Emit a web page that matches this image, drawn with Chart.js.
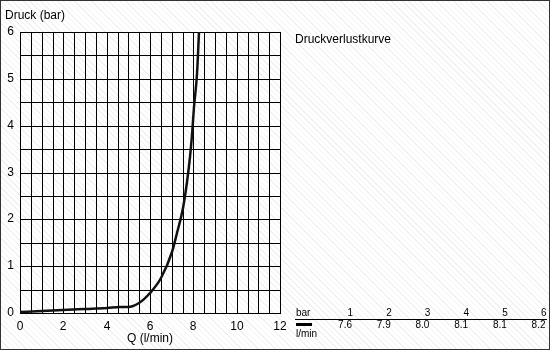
<!DOCTYPE html>
<html lang="de">
<head>
<meta charset="UTF-8">
<title>Druckverlustkurve</title>
<style>
    html, body {
        margin: 0;
        padding: 0;
    }
    body {
        width: 550px;
        height: 350px;
        background: repeating-linear-gradient(45deg, #ffffff 0px, #ffffff 3px, #f1f1f1 3px, #f1f1f1 4px);
        font-family: "Liberation Sans", Arial, sans-serif;
    }
    #chart {
        display: block;
    }
</style>
</head>
<body>
<canvas id="chart" width="550" height="350"></canvas>
<script src="https://cdn.jsdelivr.net/npm/chart.js"></script>
<script>
    // Druckverlust: Durchfluss Q (l/min) gegen Druck (bar)
    const flow = [0, 1, 2, 3, 4, 4.6, 5, 5.5, 6, 6.5, 7, 7.25, 7.5, 7.7, 7.85, 7.95, 8.05, 8.15, 8.26];
    const pressure = [0.03, 0.045, 0.06, 0.08, 0.1, 0.12, 0.13, 0.22, 0.42, 0.74, 1.31, 1.71, 2.24, 2.8, 3.34, 3.8, 4.39, 5.1, 6.0];

    // Tabelle rechts unten
    const tableBar = ['1', '2', '3', '4', '5', '6'];
    const tableFlow = ['7.6', '7.9', '8.0', '8.1', '8.1', '8.2'];

    const font = '"Liberation Sans", Arial, sans-serif';

    const extras = {
        id: 'extras',
        afterDraw(chart) {
            const ctx = chart.ctx;
            ctx.save();
            ctx.fillStyle = '#000';
            ctx.font = '12px ' + font;
            ctx.textBaseline = 'middle';
            ctx.textAlign = 'left';
            ctx.fillText('Druck (bar)', 5, 16);
            ctx.fillText('Druckverlustkurve', 295, 40);

            // kleine Tabelle
            ctx.font = '10px ' + font;
            ctx.fillText('bar', 296, 313);
            ctx.fillText('l/min', 296, 334);
            ctx.textAlign = 'right';
            tableBar.forEach((t, i) => ctx.fillText(t, 353 + i * 38.7, 313));
            tableFlow.forEach((t, i) => ctx.fillText(t, 352 + i * 38.7, 325));

            ctx.strokeStyle = '#000';
            ctx.lineWidth = 1;
            ctx.beginPath();
            ctx.moveTo(295, 319.5);
            ctx.lineTo(547, 319.5);
            ctx.stroke();
            ctx.fillRect(296, 323, 16, 3);

            // Rahmen
            ctx.strokeStyle = '#333';
            ctx.strokeRect(0.5, 0.5, 549, 349);
            ctx.restore();
        }
    };

    new Chart(document.getElementById('chart'), {
        type: 'scatter',
        data: {
            datasets: [{
                data: flow.map((q, i) => ({ x: q, y: pressure[i] })),
                showLine: true,
                borderColor: '#111',
                borderWidth: 2.5,
                pointRadius: 0,
                cubicInterpolationMode: 'monotone'
            }]
        },
        options: {
            responsive: false,
            animation: false,
            devicePixelRatio: 1,
            layout: { padding: { top: 32, right: 270, left: 0, bottom: 0 } },
            plugins: { legend: { display: false }, tooltip: { enabled: false } },
            scales: {
                x: {
                    type: 'linear',
                    min: 0,
                    max: 12,
                    alignToPixels: true,
                    afterFit: s => { s.height = 37; },
                    border: { color: '#000', width: 1 },
                    grid: { color: '#000', lineWidth: 1, drawTicks: false },
                    ticks: {
                        stepSize: 0.5,
                        autoSkip: false,
                        maxRotation: 0,
                        padding: 6,
                        color: '#000',
                        font: { family: font, size: 12 },
                        callback: v => (v % 2 === 0 ? String(v) : '')
                    },
                    title: {
                        display: true,
                        text: 'Q (l/min)',
                        color: '#000',
                        font: { family: font, size: 12 },
                        padding: { top: 0, bottom: 4 }
                    }
                },
                y: {
                    min: 0,
                    max: 6,
                    alignToPixels: true,
                    afterFit: s => { s.width = 20; },
                    border: { color: '#000', width: 1 },
                    grid: { color: '#000', lineWidth: 1, drawTicks: false },
                    ticks: {
                        stepSize: 0.5,
                        autoSkip: false,
                        padding: 6,
                        color: '#000',
                        font: { family: font, size: 12 },
                        callback: v => (Number.isInteger(v) ? String(v) : '')
                    }
                }
            }
        },
        plugins: [extras]
    });
</script>
</body>
</html>
